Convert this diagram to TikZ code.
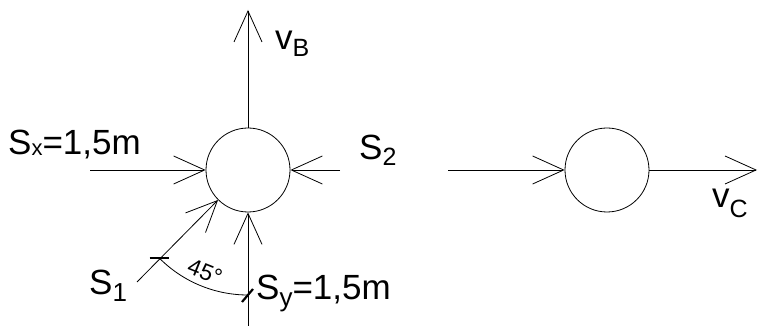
\documentclass[tikz,border=0pt]{standalone}
\usepackage{fontspec}
\setmainfont{Liberation Sans}
\usetikzlibrary{arrows.meta}
\begin{document}
\begin{tikzpicture}[x=1pt,y=1pt,
  ln/.style={line width=0.8pt},
  arr/.style={ln,-{Straight Barb[length=31pt,width=28pt,line width=0.8pt]}},
  ball/.style={circle,draw,line width=0.8pt,minimum size=84pt,inner sep=0pt},
  lbl/.style={anchor=base west,inner sep=0pt,font=\fontsize{35}{35}\selectfont},
  tick/.style={line width=2.2pt}]
\useasboundingbox (0,0) rectangle (758,326);
\node[ball] (A) at (248,156) {};
\node[ball] (C) at (607,156) {};
\coordinate (top) at (248,316);
\coordinate (sx) at (90,156);
\coordinate (s2) at (340,156);
\coordinate (s1) at (137,44);
\coordinate (sy) at (248,0);
\coordinate (in) at (448,156);
\coordinate (out) at (757,156);
\draw[arr] (A.north) -- (top);
\draw[arr] (sx) -- (A.west);
\draw[arr] (s2) -- (A.east);
\draw[arr] (s1) -- (A.225);
\draw[arr] (sy) -- (A.south);
\draw[arr] (in) -- (C.west);
\draw[arr] (C.east) -- (out);
% angle arc
\draw[ln] (A.center) ++(225:125pt) coordinate (a1) arc[start angle=225,end angle=270,radius=125pt] coordinate (a2);
\draw[tick] ([xshift=-10pt]a1) -- ([xshift=9pt]a1);
\draw[tick] ([shift={(-6pt,-7pt)}]a2) -- ([shift={(5pt,6pt)}]a2);
\node[rotate=-22,inner sep=0pt,font=\fontsize{23}{23}\selectfont] (ang) at (205,54) {45°};
% labels
\node[lbl] (lsx) at (8,171) {S\raisebox{-1pt}{\fontsize{22}{22}\selectfont x}=1,5m};
\node[lbl] (ls2) at (359,166) {S\raisebox{-6pt}{\fontsize{25}{25}\selectfont 2}};
\node[lbl] (ls1) at (89,31) {S\raisebox{-7pt}{\fontsize{26}{26}\selectfont 1}};
\node[lbl] (lsy) at (256,26) {S\raisebox{-7pt}{\fontsize{26}{26}\selectfont y}=1,5m};
\node[lbl] (lvb) at (275,276) {v\raisebox{-7pt}{\fontsize{25}{25}\selectfont B}};
\node[lbl] (lvc) at (712,118) {v\raisebox{-10pt}{\fontsize{25}{25}\selectfont C}};
\end{tikzpicture}
\end{document}
